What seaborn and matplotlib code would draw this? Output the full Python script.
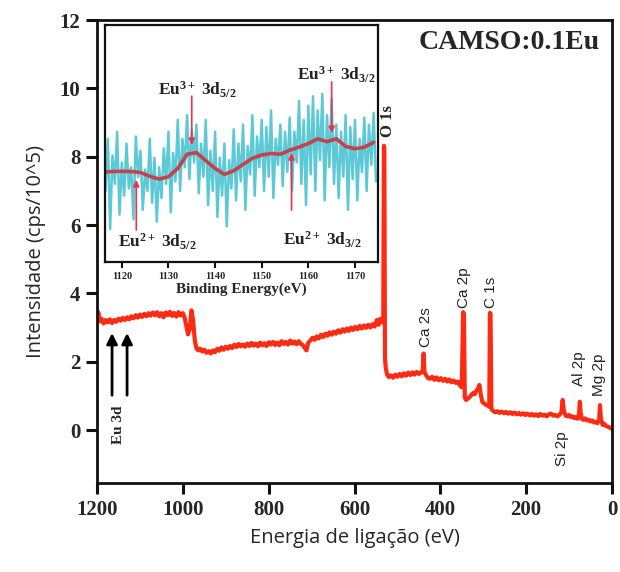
import numpy as np
import pandas as pd
import matplotlib
matplotlib.use("Agg")
import matplotlib.pyplot as plt
import seaborn as sns

# ---- XPS survey spectrum (binding energy in eV, intensity in cps/10^5) ----
survey_energy = [
    1200, 1197, 1193, 1189, 1185, 1180, 1175, 1170, 1165, 1160, 1155, 1150, 1145, 1140,
    1135, 1130, 1125, 1120, 1115, 1110, 1105, 1100, 1095, 1090, 1085, 1080, 1075, 1070,
    1065, 1060, 1055, 1050, 1045, 1040, 1035, 1030, 1025, 1020, 1015, 1010, 1005, 1000,
    996, 992, 988, 984, 980, 976, 972, 968, 964, 960, 955, 950, 945, 940, 935, 930, 925,
    920, 915, 910, 905, 900, 895, 890, 885, 880, 875, 870, 865, 860, 855, 850, 845, 840,
    835, 830, 825, 820, 815, 810, 805, 800, 795, 790, 785, 780, 775, 770, 765, 760, 755,
    750, 745, 740, 735, 730, 725, 720, 716, 712, 708, 703, 698, 693, 688, 683, 678, 673,
    668, 663, 658, 653, 648, 643, 638, 633, 628, 623, 618, 613, 608, 603, 598, 593, 588,
    583, 578, 573, 568, 563, 558, 553, 548, 544, 540, 536, 533, 531.5, 530.5, 529, 527,
    524, 520, 515, 510, 505, 500, 495, 490, 485, 480, 475, 470, 465, 460, 455, 450, 445,
    441, 439, 437, 433, 429, 424, 419, 414, 409, 404, 399, 394, 389, 384, 379, 374, 369,
    364, 359, 354, 350, 347, 345, 343, 340, 336, 332, 328, 324, 320, 316, 312, 309, 306,
    302, 298, 294, 290, 286, 284.5, 283, 281, 277, 272, 267, 262, 257, 252, 247, 242, 237,
    232, 227, 222, 217, 212, 207, 202, 197, 192, 187, 182, 177, 172, 167, 162, 157, 152,
    147, 142, 137, 132, 127, 122, 118, 115, 112, 108, 104, 100, 96, 92, 88, 84, 80, 77,
    75, 73, 70, 66, 62, 58, 54, 50, 46, 42, 38, 34, 30, 28, 26, 22, 18, 14, 10, 6, 3, 0,
]
survey_intensity = [
    3.30, 3.45, 3.18, 3.25, 3.12, 3.22, 3.15, 3.24, 3.13, 3.22, 3.17, 3.26, 3.20, 3.28,
    3.22, 3.30, 3.24, 3.33, 3.27, 3.36, 3.29, 3.38, 3.31, 3.40, 3.33, 3.42, 3.35, 3.44,
    3.36, 3.45, 3.33, 3.42, 3.30, 3.44, 3.36, 3.46, 3.34, 3.43, 3.32, 3.45, 3.35, 3.42,
    3.30, 3.05, 2.80, 2.95, 3.50, 3.20, 2.60, 2.38, 2.33, 2.38, 2.30, 2.35, 2.26, 2.31, 2.24, 2.33, 2.28,
    2.38, 2.32, 2.42, 2.35, 2.44, 2.38, 2.46, 2.40, 2.50, 2.43, 2.52, 2.45, 2.50, 2.44, 2.53, 2.46, 2.55,
    2.47, 2.53, 2.45, 2.56, 2.48, 2.54, 2.46, 2.57, 2.50, 2.58, 2.49, 2.56, 2.48, 2.60, 2.52, 2.58, 2.50,
    2.62, 2.53, 2.59, 2.51, 2.60, 2.52, 2.48, 2.40, 2.33, 2.55, 2.62, 2.70, 2.64, 2.74, 2.68, 2.79, 2.72,
    2.82, 2.76, 2.86, 2.79, 2.88, 2.82, 2.92, 2.85, 2.95, 2.88, 2.97, 2.90, 3.00, 2.93, 3.02, 2.95, 3.05,
    2.97, 3.06, 2.99, 3.08, 3.00, 3.10, 3.03, 3.22, 3.08, 3.25, 3.15, 3.35, 8.32, 8.20, 2.10, 1.80,
    1.62, 1.55, 1.60, 1.53, 1.62, 1.56, 1.64, 1.57, 1.66, 1.59, 1.68, 1.61, 1.69, 1.62, 1.70, 1.64, 1.68,
    1.75, 2.24, 1.70, 1.60, 1.52, 1.50, 1.56, 1.47, 1.54, 1.46, 1.52, 1.44, 1.50, 1.42, 1.48, 1.40, 1.45,
    1.38, 1.42, 1.30, 1.25, 3.45, 3.40, 0.95, 0.88, 0.92, 0.96, 1.02, 1.08, 1.05, 1.15, 1.22, 1.32, 1.05,
    0.82, 0.78, 0.74, 0.72, 0.68, 3.43, 3.40, 0.62, 0.56, 0.52, 0.55, 0.50, 0.54, 0.49, 0.53, 0.48, 0.52,
    0.47, 0.51, 0.46, 0.50, 0.45, 0.49, 0.44, 0.48, 0.43, 0.47, 0.42, 0.46, 0.41, 0.47, 0.42, 0.45, 0.40,
    0.46, 0.48, 0.42, 0.44, 0.40, 0.45, 0.52, 0.88, 0.55, 0.42, 0.40, 0.44, 0.38, 0.40, 0.35, 0.38, 0.33, 0.45,
    0.83, 0.50, 0.32, 0.30, 0.34, 0.28, 0.30, 0.25, 0.28, 0.22, 0.24, 0.20, 0.30, 0.73, 0.35, 0.15, 0.18, 0.12,
    0.10, 0.08, 0.05, 0.04,
]

# ---- Eu 3d high-resolution region (inset, arbitrary units) ----
eu_raw = [
    0.30, 0.52, 0.14, 0.45, 0.33, 0.55, 0.20, 0.42, 0.28, 0.50, 0.31, 0.40, 0.18, 0.53,
    0.36, 0.47, 0.22, 0.39, 0.30, 0.52, 0.25, 0.44, 0.17, 0.40, 0.27, 0.48, 0.33, 0.55,
    0.21, 0.46, 0.34, 0.60, 0.30, 0.52, 0.40, 0.62, 0.35, 0.56, 0.42, 0.58, 0.29, 0.50,
    0.36, 0.60, 0.24, 0.47, 0.30, 0.55, 0.19, 0.44, 0.28, 0.50, 0.15, 0.43, 0.31, 0.56,
    0.26, 0.50, 0.34, 0.58, 0.22, 0.49, 0.37, 0.62, 0.28, 0.53, 0.40, 0.60, 0.30, 0.57,
    0.36, 0.64, 0.27, 0.52, 0.41, 0.58, 0.32, 0.55, 0.38, 0.61, 0.30, 0.55, 0.42, 0.68,
    0.33, 0.60, 0.24, 0.66, 0.37, 0.70, 0.30, 0.64, 0.43, 0.71, 0.26, 0.62, 0.40, 0.69,
    0.33, 0.58, 0.27, 0.55, 0.36, 0.62, 0.22, 0.57, 0.35, 0.60, 0.26, 0.52, 0.38, 0.61,
    0.30, 0.58, 0.41, 0.63, 0.34,
]
eu_raw_start, eu_raw_stop = 1116.5, 1174.5

eu_fit_energy = [1116, 1118, 1120, 1122, 1124, 1126, 1128, 1130, 1132, 1134, 1136, 1138,
                 1140, 1142, 1144, 1146, 1148, 1150, 1152, 1154, 1156, 1158, 1160, 1162,
                 1164, 1166, 1168, 1170, 1172, 1174]
eu_fit = [0.380, 0.382, 0.383, 0.382, 0.378, 0.362, 0.350, 0.360, 0.395, 0.455, 0.462, 0.428,
          0.395, 0.370, 0.385, 0.412, 0.438, 0.452, 0.458, 0.455, 0.472, 0.485, 0.500, 0.520,
          0.508, 0.520, 0.488, 0.478, 0.485, 0.505]

# peak labels on the survey: (text, energy, intensity)
survey_peaks = [("Ca 2s", 433, 3.01), ("Ca 2p", 345, 4.16), ("C 1s", 282, 4.04),
                ("Al 2p", 77, 1.81), ("Mg 2p", 30, 1.61), ("Si 2p", 117, -0.56)]
eu3d_arrow_energy = [1165, 1130]

# Eu 3d components: (label, text x, text y, arrow x, arrow tail y, arrow head y)
eu_components = [
    ("Eu$^{3+}$ 3d$_{5/2}$", 1136.1, 0.725, 1135.0, 0.700, 0.494),
    ("Eu$^{3+}$ 3d$_{3/2}$", 1165.9, 0.790, 1165.0, 0.760, 0.544),
    ("Eu$^{2+}$ 3d$_{5/2}$", 1127.6, 0.085, 1123.1, 0.135, 0.346),
    ("Eu$^{2+}$ 3d$_{3/2}$", 1162.9, 0.093, 1156.4, 0.219, 0.460),
]

sns.set_theme(style="ticks")
plt.rcParams["font.family"] = ["DejaVu Sans"]
plt.rcParams["mathtext.fontset"] = "custom"
plt.rcParams["mathtext.rm"] = "Liberation Serif:bold"
plt.rcParams["mathtext.it"] = "Liberation Serif:bold"
plt.rcParams["mathtext.bf"] = "Liberation Serif:bold"
plt.rcParams["mathtext.default"] = "rm"

SERIF = "Liberation Serif"
RED = "#FF2A12"

fig = plt.figure(figsize=(6.2, 5.72), dpi=100)
ax = fig.add_axes([0.1565, 0.1556, 0.8306, 0.8094])

survey = pd.DataFrame({"energy": survey_energy, "intensity": survey_intensity})
sns.lineplot(data=survey, x="energy", y="intensity", ax=ax, color=RED,
             linewidth=3.0, estimator=None, sort=False)

ax.set_xlim(1200, 0)
ax.set_ylim(-1.55, 12)
ax.set_xticks([1200, 1000, 800, 600, 400, 200, 0])
ax.set_yticks([0, 2, 4, 6, 8, 10, 12])
for lab in ax.get_xticklabels() + ax.get_yticklabels():
    lab.set_fontfamily(SERIF)
    lab.set_fontweight("bold")
    lab.set_fontsize(15)
ax.tick_params(axis="both", direction="out", length=8, width=2.2, color="#111111",
               top=False, right=False, pad=4)
for sp in ax.spines.values():
    sp.set_visible(True)
    sp.set_linewidth(2.0)
    sp.set_color("#111111")

ax.set_xlabel("Energia de ligação (eV)", fontfamily="Open Sans", fontsize=14.5, labelpad=6)
ax.set_ylabel("Intensidade (cps/10^5)", fontfamily="Open Sans", fontsize=14.5, labelpad=10)

ax.text(0.977, 0.952, "CAMSO:0.1Eu", transform=ax.transAxes, ha="right", va="center",
        fontfamily=SERIF, fontweight="bold", fontsize=20)

ax.text(522, 9.05, "O 1s", rotation=90, ha="center", va="center",
        fontfamily=SERIF, fontweight="bold", fontsize=12)
for name, e, y in survey_peaks:
    ax.text(e, y, name, rotation=90, ha="center", va="center",
            fontfamily="Liberation Sans", fontsize=11, color="#222222")

for e in eu3d_arrow_energy:
    ax.annotate("", xy=(e, 2.84), xytext=(e, 1.02),
                arrowprops=dict(arrowstyle="-|>", color="black", lw=2.0, mutation_scale=16,
                                shrinkA=0, shrinkB=0))
ax.text(1151, 0.15, "Eu 3d", rotation=90, ha="center", va="center",
        fontfamily=SERIF, fontweight="bold", fontsize=11)

# ---- inset ----
axin = fig.add_axes([0.1694, 0.542, 0.440, 0.414])
raw_energy = np.linspace(eu_raw_start, eu_raw_stop, len(eu_raw))
raw = pd.DataFrame({"energy": raw_energy, "counts": eu_raw})
fit = pd.DataFrame({"energy": eu_fit_energy, "counts": eu_fit})
sns.lineplot(data=raw, x="energy", y="counts", ax=axin, color="#5CC9D6",
             linewidth=1.8, estimator=None, sort=False)
sns.lineplot(data=fit, x="energy", y="counts", ax=axin, color="#C2434C",
             linewidth=2.6, estimator=None, sort=False)
axin.set_xlim(1116.4, 1174.9)
axin.set_ylim(0, 1)
axin.set_yticks([])
axin.set_xticks([1120, 1130, 1140, 1150, 1160, 1170])
for lab in axin.get_xticklabels():
    lab.set_fontfamily(SERIF)
    lab.set_fontsize(7.5)
    lab.set_fontweight("bold")
axin.tick_params(axis="x", direction="out", length=4, width=1.5, pad=3, color="#111111")
for sp in axin.spines.values():
    sp.set_linewidth(1.6)
    sp.set_color("#111111")
axin.set_xlabel("Binding Energy(eV)", fontfamily=SERIF, fontweight="bold", fontsize=11,
                labelpad=1)
axin.set_ylabel("")

for label, tx, ty, axx, y0, y1 in eu_components:
    axin.text(tx, ty, label, ha="center", va="center", fontsize=12.5, color="#222222",
              fontfamily=SERIF, fontweight="bold")
    axin.annotate("", xy=(axx, y1), xytext=(axx, y0),
                  arrowprops=dict(arrowstyle="-|>", color="#F03048", lw=1.2,
                                  mutation_scale=9, shrinkA=0, shrinkB=0))

fig.savefig("out.png", dpi=100)
